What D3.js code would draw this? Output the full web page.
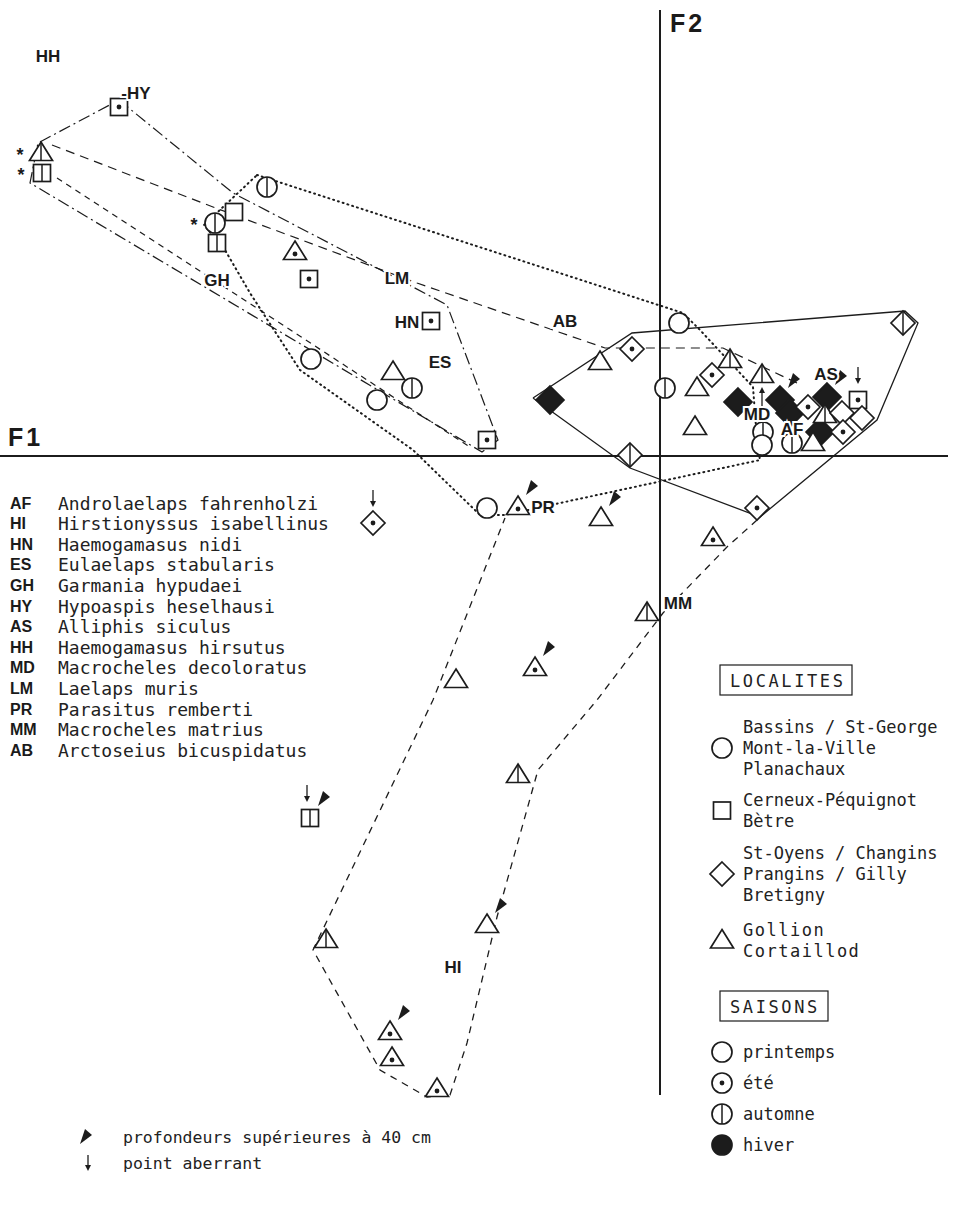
<!DOCTYPE html>
<html>
<head>
<meta charset="utf-8">
<script src="https://d3js.org/d3.v7.min.js"></script>
<style>
body { margin: 0; background: #fff; }
.mono { font-family: "DejaVu Sans Mono", "Liberation Mono", monospace; fill: #222; }
.bold { font-family: "Liberation Sans", Arial, sans-serif; font-weight: bold; fill: #1a1a1a; }
</style>
</head>
<body>
<svg id="chart" width="955" height="1205"></svg>
<script>
// species codes and names (left legend)
var speciesCodes = ["AF", "HI", "HN", "ES", "GH", "HY", "AS", "HH", "MD", "LM", "PR", "MM", "AB"];
var speciesNames = ["Androlaelaps fahrenholzi", "Hirstionyssus isabellinus", "Haemogamasus nidi",
  "Eulaelaps stabularis", "Garmania hypudaei", "Hypoaspis heselhausi", "Alliphis siculus",
  "Haemogamasus hirsutus", "Macrocheles decoloratus", "Laelaps muris", "Parasitus remberti",
  "Macrocheles matrius", "Arctoseius bicuspidatus"];

// localities (symbol 0 circle, 1 square, 2 diamond, 3 triangle)
var localites = [["Bassins / St-George", "Mont-la-Ville", "Planachaux"],
  ["Cerneux-Péquignot", "Bètre"],
  ["St-Oyens / Changins", "Prangins / Gilly", "Bretigny"],
  ["Gollion", "Cortaillod"]];
// seasons (0 empty, 1 dot, 2 bar, 3 filled)
var saisons = ["printemps", "été", "automne", "hiver"];

// points: F1, F2, locality, season, flags (* star, p depth > 40 cm, a aberrant, ^ arrow up)
var points = [
  [-5.41, 3.49, 1, 1, ""], [-6.19, 3.03, 3, 2, "*"], [-6.18, 2.83, 1, 2, "*"],
  [-3.93, 2.69, 0, 2, ""], [-4.26, 2.44, 1, 0, ""], [-4.45, 2.33, 0, 2, "*"],
  [-4.43, 2.13, 1, 2, ""], [-3.65, 2.04, 3, 1, ""], [-3.51, 1.77, 1, 1, ""],
  [-2.29, 1.35, 1, 1, ""], [-3.49, 0.97, 0, 0, ""], [-2.67, 0.84, 3, 0, ""],
  [-2.48, 0.68, 0, 2, ""], [-2.83, 0.56, 0, 0, ""], [-1.73, 0.16, 1, 1, ""],
  [-1.10, 0.56, 2, 3, ""], [-0.60, 0.94, 3, 0, ""], [-0.28, 1.07, 2, 1, ""],
  [0.19, 1.33, 0, 0, ""], [0.05, 0.68, 0, 2, ""], [2.43, 1.33, 2, 2, ""],
  [0.70, 0.96, 3, 2, ""], [0.37, 0.68, 3, 0, ""], [0.52, 0.81, 2, 1, ""],
  [1.02, 0.81, 3, 2, "^"], [0.35, 0.29, 3, 0, ""], [0.78, 0.54, 2, 3, ""],
  [1.20, 0.56, 2, 3, "p"], [1.30, 0.43, 2, 3, ""], [1.67, 0.59, 2, 3, "p"],
  [1.60, 0.24, 2, 3, ""], [1.48, 0.49, 2, 1, ""], [1.65, 0.41, 3, 2, ""],
  [1.98, 0.56, 1, 1, "a"], [1.82, 0.43, 2, 0, ""], [2.02, 0.38, 2, 0, ""],
  [1.83, 0.24, 2, 1, ""], [1.53, 0.13, 3, 0, ""], [1.03, 0.24, 0, 2, ""],
  [1.02, 0.11, 0, 0, ""], [1.32, 0.13, 0, 2, ""], [-0.30, 0.01, 2, 2, ""],
  [0.97, -0.52, 2, 1, ""], [-1.73, -0.52, 0, 0, ""], [-1.42, -0.51, 3, 1, "p"],
  [-0.59, -0.62, 3, 0, "p"], [0.53, -0.82, 3, 1, ""], [-0.13, -1.57, 3, 2, ""],
  [-1.25, -2.12, 3, 1, "p"], [-2.04, -2.24, 3, 0, ""], [-1.42, -3.19, 3, 2, ""],
  [-3.50, -3.62, 1, 2, "ap"], [-1.73, -4.69, 3, 0, "p"], [-3.34, -4.84, 3, 2, ""],
  [-2.70, -5.76, 3, 1, "p"], [-2.68, -6.02, 3, 1, ""], [-2.23, -6.33, 3, 1, ""],
  [-2.87, -0.67, 2, 1, "a"]
];

// species envelopes (F1, F2)
var hullHY = [[-5.41, 3.56], [-4.27, 2.63], [-2.83, 1.88], [-2.13, 1.51], [-1.62, 0.16],
  [-1.78, 0.04], [-6.30, 2.73], [-6.22, 3.13], [-5.41, 3.56]];
var hullLM = [[-6.08, 3.11], [-4.47, 2.49], [-2.43, 1.73], [-0.55, 1.08], [0.63, 1.08], [1.37, 0.73]];
var hullGH = [[-6.03, 2.78], [-1.90, 0.09]];
var hullPR = [[-4.03, 2.81], [0.23, 1.43], [0.40, 1.26], [0.93, 0.69], [0.97, 0.16], [1.00, -0.04],
  [-1.00, -0.47], [-1.55, -0.59], [-1.80, -0.59], [-2.47, 0.06], [-3.60, 0.86], [-4.10, 1.63],
  [-4.35, 2.06], [-4.56, 2.31], [-4.03, 2.81]];
var hullAS = [[-1.27, 0.58], [-0.28, 1.23], [2.45, 1.45], [2.58, 1.33], [2.17, 0.36], [1.00, -0.61],
  [-0.30, -0.12], [-1.27, 0.58]];
var hullHI = [[0.97, -0.64], [0.67, -0.91], [0.03, -1.57], [-0.63, -2.44], [-1.22, -3.14],
  [-1.63, -4.61], [-1.93, -5.87], [-2.10, -6.39], [-2.33, -6.41], [-2.80, -6.14], [-3.47, -4.94],
  [-2.27, -2.44], [-1.55, -0.62]];

// species labels in the plane
var labelText = ["HH", "-HY", "GH", "LM", "HN", "ES", "AB", "AS", "MD", "AF", "PR", "MM", "HI"];
var labelPos = [[-6.12, 4.00], [-5.24, 3.63], [-4.43, 1.76], [-2.63, 1.78], [-2.53, 1.34],
  [-2.20, 0.94], [-0.95, 1.35], [1.66, 0.82], [0.97, 0.42], [1.32, 0.27], [-1.17, -0.51],
  [0.18, -1.47], [-2.07, -5.11]];

var svg = d3.select("#chart"),
    width = +svg.attr("width"),
    height = +svg.attr("height");
var ink = "#1c1c1c";

var x = d3.scaleLinear().domain([-6.6, 2.95]).range([0, width]);
var y = d3.scaleLinear().domain([4.56, -7.49]).range([0, height]);

var line = d3.line().x(function(d) { return x(d[0]); }).y(function(d) { return y(d[1]); });

// axes
svg.append("line").attr("x1", x(-6.6)).attr("x2", x(2.88)).attr("y1", y(0)).attr("y2", y(0))
  .attr("stroke", ink).attr("stroke-width", 2);
svg.append("line").attr("x1", x(0)).attr("x2", x(0)).attr("y1", y(4.46)).attr("y2", y(-6.39))
  .attr("stroke", ink).attr("stroke-width", 2);
svg.append("text").attr("class", "bold").attr("x", x(-6.52)).attr("y", y(0.1))
  .attr("font-size", 25).attr("letter-spacing", 3).text("F1");
svg.append("text").attr("class", "bold").attr("x", x(0.1)).attr("y", y(4.24))
  .attr("font-size", 25).attr("letter-spacing", 3).text("F2");

// envelopes
function hull(d, dash, w) {
  svg.append("path").attr("d", line(d)).attr("fill", "none").attr("stroke", ink)
    .attr("stroke-width", w).attr("stroke-dasharray", dash).attr("stroke-linecap", dash === "1,4" ? "round" : "butt");
}
hull(hullHY, "12,4,2,4", 1.2);
hull(hullLM, "9,6", 1.2);
hull(hullGH, "6,5", 1.2);
hull(hullPR, "1,4", 2);
hull(hullAS, null, 1.3);
hull(hullHI, "7,6", 1.3);

// symbol drawing
function drawSymbol(g, loc, sai) {
  var fill = sai === 3 ? ink : "#fff";
  var s;
  if (loc === 0) {
    s = g.append("circle").attr("r", 10);
  } else if (loc === 1) {
    s = g.append("rect").attr("x", -8.5).attr("y", -8.5).attr("width", 17).attr("height", 17);
  } else if (loc === 2) {
    var r = sai === 3 ? 14 : 12;
    s = g.append("path").attr("d", "M0," + (-r) + "L" + r + ",0L0," + r + "L" + (-r) + ",0Z");
  } else {
    s = g.append("path").attr("d", "M0,-11L11.5,7.5L-11.5,7.5Z");
  }
  s.attr("fill", fill).attr("stroke", ink).attr("stroke-width", 1.7).attr("stroke-linejoin", "miter");
  if (sai === 1) {
    g.append("circle").attr("cx", 0).attr("cy", loc === 3 ? 2 : 0).attr("r", 2.4).attr("fill", ink);
  }
  if (sai === 2) {
    var top = [-10, -8.5, -12, -11][loc], bot = [10, 8.5, 12, 7.5][loc];
    g.append("line").attr("x1", 0).attr("x2", 0).attr("y1", top).attr("y2", bot)
      .attr("stroke", ink).attr("stroke-width", 1.5);
  }
}
function drawWedge(g, dx, dy) {
  g.append("path").attr("transform", "translate(" + dx + "," + dy + ")")
    .attr("d", "M0,0L5,-15L12,-9Z").attr("fill", ink);
}
function drawArrow(g, dx, y1, y2) {
  var dir = y2 > y1 ? 1 : -1;
  g.append("line").attr("x1", dx).attr("x2", dx).attr("y1", y1).attr("y2", y2 - dir * 4)
    .attr("stroke", ink).attr("stroke-width", 1.3);
  g.append("path").attr("d", "M" + (dx - 3) + "," + (y2 - dir * 6) + "L" + dx + "," + y2 + "L" + (dx + 3) + "," + (y2 - dir * 6) + "Z")
    .attr("fill", ink);
}

var pts = svg.selectAll(".pt").data(points).enter().append("g")
  .attr("class", "pt")
  .attr("transform", function(d) { return "translate(" + x(d[0]) + "," + y(d[1]) + ")"; });
pts.each(function(d) {
  var g = d3.select(this);
  drawSymbol(g, d[2], d[3]);
  if (d[4].indexOf("p") >= 0) drawWedge(g, 8, -12);
  if (d[4].indexOf("a") >= 0) drawArrow(g, d[4].indexOf("p") >= 0 ? -3 : 0, -33, -16);
  if (d[4].indexOf("^") >= 0) drawArrow(g, 0, 32, 12);
  if (d[4].indexOf("*") >= 0) {
    g.append("text").attr("class", "bold").attr("x", -21).attr("y", 8).attr("font-size", 18)
      .attr("text-anchor", "middle").text("*");
  }
});

// species labels
svg.selectAll(".lab").data(labelText).enter().append("text")
  .attr("class", "bold lab")
  .attr("x", function(d, i) { return x(labelPos[i][0]); })
  .attr("y", function(d, i) { return y(labelPos[i][1]); })
  .attr("text-anchor", "middle").attr("dominant-baseline", "central")
  .attr("font-size", 17)
  .attr("stroke", "#fff").attr("stroke-width", 4).attr("paint-order", "stroke")
  .text(function(d) { return d; });

// left legend: species
var leg = svg.append("g").attr("transform", "translate(10,503)");
speciesCodes.forEach(function(c, i) {
  leg.append("text").attr("class", "bold").attr("x", 0).attr("y", i * 20.6)
    .attr("dominant-baseline", "central").attr("font-size", 16).text(c);
  leg.append("text").attr("class", "mono").attr("x", 48).attr("y", i * 20.6)
    .attr("dominant-baseline", "central").attr("font-size", 18).text(speciesNames[i]);
});

// right legend
var rl = svg.append("g").attr("transform", "translate(722,0)");
function boxTitle(t, y0, w) {
  rl.append("rect").attr("x", -2).attr("y", y0).attr("width", w).attr("height", 30)
    .attr("fill", "none").attr("stroke", ink).attr("stroke-width", 1.2);
  rl.append("text").attr("class", "mono").attr("x", 8).attr("y", y0 + 16)
    .attr("dominant-baseline", "central").attr("font-size", 17).attr("letter-spacing", 2.6).text(t);
}
boxTitle("LOCALITES", 665, 132);
var locY = [727, 800, 853, 930];
localites.forEach(function(lines, i) {
  var g = rl.append("g").attr("transform", "translate(0," + (locY[i] + (lines.length - 1) * 10.5) + ")");
  drawSymbol(g, i, 0);
  lines.forEach(function(t, j) {
    rl.append("text").attr("class", "mono").attr("x", 21).attr("y", locY[i] + j * 21)
      .attr("dominant-baseline", "central").attr("font-size", 17)
      .attr("letter-spacing", i === 3 ? 1.5 : 0).text(t);
  });
});
boxTitle("SAISONS", 991, 108);
saisons.forEach(function(t, i) {
  var yy = 1052 + i * 31;
  var g = rl.append("g").attr("transform", "translate(0," + yy + ")");
  drawSymbol(g, 0, i);
  rl.append("text").attr("class", "mono").attr("x", 21).attr("y", yy)
    .attr("dominant-baseline", "central").attr("font-size", 17).text(t);
});

// bottom legend: depth and aberrant marks
var bl = svg.append("g");
drawWedge(bl, 80, 1144);
bl.append("text").attr("class", "mono").attr("x", 123).attr("y", 1137)
  .attr("dominant-baseline", "central").attr("font-size", 16.5).text("profondeurs supérieures à 40 cm");
drawArrow(bl, 88, 1155, 1171);
bl.append("text").attr("class", "mono").attr("x", 123).attr("y", 1163)
  .attr("dominant-baseline", "central").attr("font-size", 16.5).text("point aberrant");
</script>
</body>
</html>
